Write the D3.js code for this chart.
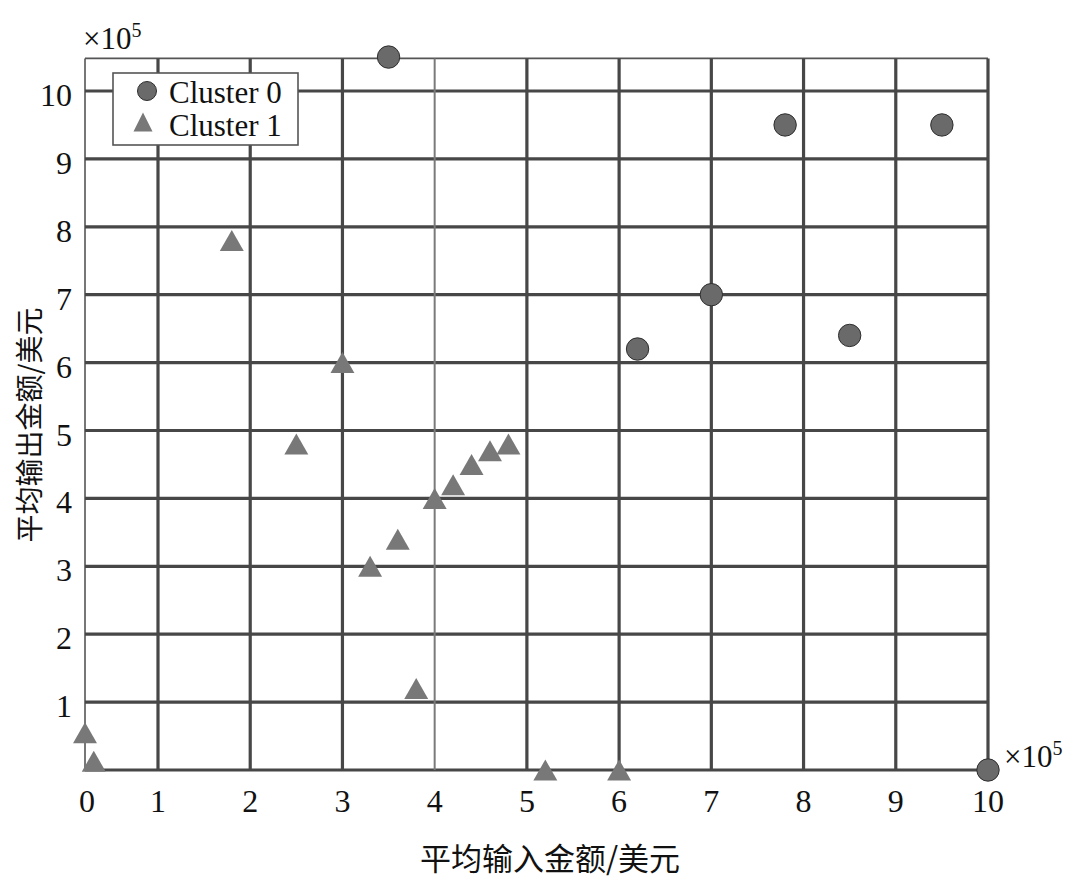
<!DOCTYPE html>
<html>
<head>
<meta charset="utf-8">
<script src="https://cdn.jsdelivr.net/npm/d3@7"></script>
<style>
  html, body { margin: 0; padding: 0; background: #ffffff; }
  svg { display: block; }
  .num { font-family: "Liberation Serif", "Times New Roman", serif; fill: #111; }
  .cjk { font-family: "Noto Sans CJK SC", sans-serif; fill: #111; }
</style>
</head>
<body>
<svg id="chart" width="1072" height="882"></svg>
<script>
// Cluster 0 (circles): average input vs. average output, ×10^5 USD
const cluster0X = [3.5, 7.8, 9.5, 7.0, 6.2, 8.5, 10.0];
const cluster0Y = [10.5, 9.5, 9.5, 7.0, 6.2, 6.4, 0.0];

// Cluster 1 (triangles)
const cluster1X = [0.0, 0.12, 1.8, 2.5, 3.0, 3.3, 3.6, 3.8, 4.0, 4.2, 4.4, 4.6, 4.8, 5.2, 6.0];
const cluster1Y = [0.55, 0.13, 7.8, 4.8, 6.0, 3.0, 3.4, 1.2, 4.0, 4.2, 4.5, 4.7, 4.8, 0.0, 0.0];

const xTicks = [0, 1, 2, 3, 4, 5, 6, 7, 8, 9, 10];
const yTicks = [1, 2, 3, 4, 5, 6, 7, 8, 9, 10];
const legendLabels = ["Cluster 0", "Cluster 1"];
const xTitle = "平均输入金额/美元";
const yTitle = "平均输出金额/美元";

const svg = d3.select("#chart");

// x axis: the first unit is compressed, the rest evenly spaced
const x = d3.scaleLinear().domain([0, 1, 10]).range([85, 158, 988]);
const y = d3.scaleLinear().domain([0, 10]).range([770, 91]);
const yTop = 10.48;

const gridColor = "#474747";

// thin frame lines (left and top)
const frame = svg.append("g");
frame.append("line")
  .attr("x1", x(0)).attr("x2", x(10)).attr("y1", y(yTop)).attr("y2", y(yTop))
  .attr("stroke", "#555").attr("stroke-width", 1.6);
frame.append("line")
  .attr("x1", x(0)).attr("x2", x(0)).attr("y1", y(yTop)).attr("y2", y(0))
  .attr("stroke", "#555").attr("stroke-width", 1.6);

// horizontal grid lines, including the bottom edge
const grid = svg.append("g");
grid.selectAll("line.h")
  .data([0].concat(yTicks))
  .join("line")
  .attr("class", "h")
  .attr("x1", x(0)).attr("x2", x(10))
  .attr("y1", d => y(d)).attr("y2", d => y(d))
  .attr("stroke", gridColor).attr("stroke-width", 3.2);

// vertical grid lines (the 4 line is drawn thin and lighter)
grid.selectAll("line.v")
  .data(xTicks.filter(d => d > 0))
  .join("line")
  .attr("class", "v")
  .attr("x1", d => x(d)).attr("x2", d => x(d))
  .attr("y1", y(yTop)).attr("y2", y(0))
  .attr("stroke", d => d === 4 ? "#7a7a7a" : gridColor)
  .attr("stroke-width", d => d === 4 ? 2 : 3.2);

// tick labels
svg.append("g").selectAll("text")
  .data(xTicks)
  .join("text")
  .attr("class", "num")
  .attr("x", d => x(d) + (d === 0 ? 2 : 0))
  .attr("y", 812)
  .attr("text-anchor", "middle")
  .attr("font-size", 32)
  .text(d => d);

svg.append("g").selectAll("text")
  .data(yTicks)
  .join("text")
  .attr("class", "num")
  .attr("x", 72)
  .attr("y", d => y(d) + 15)
  .attr("text-anchor", "end")
  .attr("font-size", 32)
  .text(d => d);

// scale multipliers ×10^5
function multiplier(px, py) {
  const t = svg.append("text").attr("class", "num")
    .attr("x", px).attr("y", py).attr("font-size", 31);
  t.append("tspan").text("×10");
  t.append("tspan").attr("font-size", 20).attr("dy", -12).text("5");
}
multiplier(83, 49);
multiplier(1004, 767);

// triangle marker (bounding-box centred, as wide as tall)
const triangleUp = {
  draw(ctx, size) {
    const h = Math.sqrt(size) / 2;
    ctx.moveTo(0, -h);
    ctx.lineTo(h, h);
    ctx.lineTo(-h, h);
    ctx.closePath();
  }
};

const pts0 = cluster0X.map((v, i) => ({ x: v, y: cluster0Y[i] }));
const pts1 = cluster1X.map((v, i) => ({ x: v, y: cluster1Y[i] }));

svg.append("g").selectAll("path")
  .data(pts1)
  .join("path")
  .attr("transform", d => `translate(${x(d.x)},${y(d.y)}) scale(1.14,1)`)
  .attr("d", d3.symbol().type(triangleUp).size(21 * 21))
  .attr("fill", "#787878");

svg.append("g").selectAll("circle")
  .data(pts0)
  .join("circle")
  .attr("cx", d => x(d.x))
  .attr("cy", d => y(d.y))
  .attr("r", 11.2)
  .attr("fill", "#6a6a6a")
  .attr("stroke", "#2e2e2e")
  .attr("stroke-width", 1);

// legend
const lg = svg.append("g");
lg.append("rect")
  .attr("x", 113).attr("y", 73).attr("width", 185).attr("height", 72)
  .attr("fill", "#fff").attr("stroke", "#555").attr("stroke-width", 1.6);
lg.append("circle")
  .attr("cx", 147).attr("cy", 91).attr("r", 9.5)
  .attr("fill", "#6a6a6a").attr("stroke", "#2e2e2e").attr("stroke-width", 1);
lg.append("path")
  .attr("transform", "translate(143,122)")
  .attr("d", d3.symbol().type(triangleUp).size(19 * 19))
  .attr("fill", "#787878");
lg.selectAll("text")
  .data(legendLabels)
  .join("text")
  .attr("class", "num")
  .attr("x", 169)
  .attr("y", (d, i) => 103 + i * 33)
  .attr("font-size", 31)
  .text(d => d);

// axis titles
svg.append("text")
  .attr("class", "cjk")
  .attr("x", 550).attr("y", 856)
  .attr("text-anchor", "middle")
  .attr("dominant-baseline", "central")
  .attr("font-size", 31)
  .text(xTitle);

svg.append("text")
  .attr("class", "cjk")
  .attr("transform", "translate(28,425) rotate(-90)")
  .attr("text-anchor", "middle")
  .attr("dominant-baseline", "central")
  .attr("font-size", 28)
  .text(yTitle);
</script>
</body>
</html>
